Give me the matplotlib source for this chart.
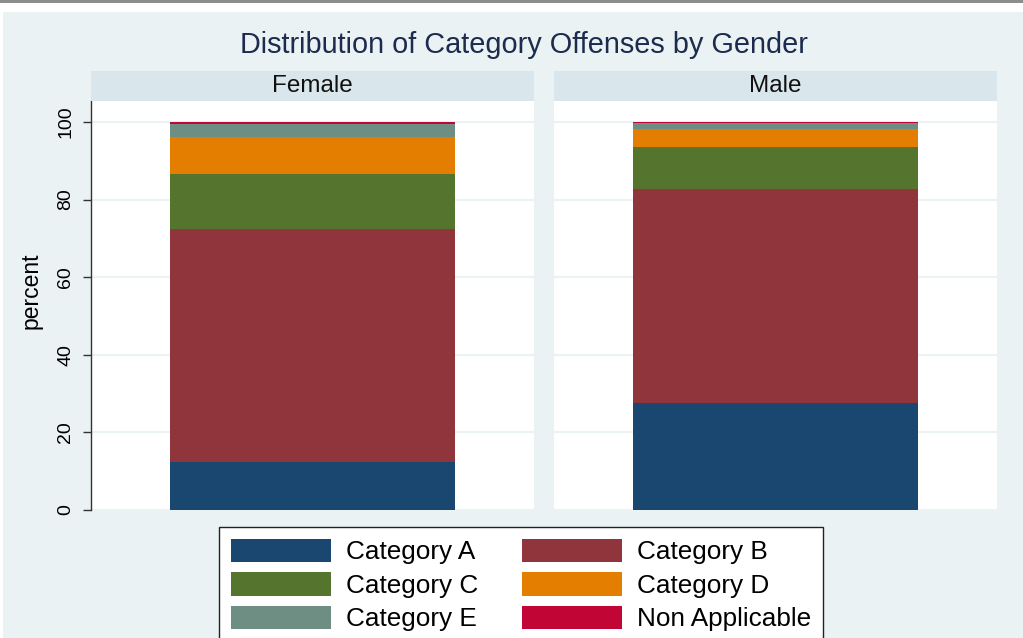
import numpy as np
import matplotlib
matplotlib.use("Agg")
import matplotlib.pyplot as plt
import matplotlib.patches as mpatches

plt.rcParams['font.family'] = ['Liberation Sans', 'DejaVu Sans']

# data (percent of offenses within gender)
genders = ['Female', 'Male']
categories = ['Category A', 'Category B', 'Category C',
              'Category D', 'Category E', 'Non Applicable']
female_pct = [12.4, 59.9, 14.3, 9.5, 3.4, 0.5]
male_pct = [27.6, 55.0, 11.0, 4.6, 1.5, 0.3]
yticks = [0, 20, 40, 60, 80, 100]

colors = ['#1a476f', '#90353b', '#55752f', '#e37e00', '#6e8e84', '#c10534']
bg = '#eaf2f3'
strip_col = '#d9e6eb'

W, H = 1023, 638
fig = plt.figure(figsize=(W / 100, H / 100), dpi=100)
fig.patch.set_facecolor('white')

# background + top band like the screenshot
fig.patches.append(mpatches.Rectangle((3 / W, 0), 1, 1 - 12 / H, transform=fig.transFigure,
                                      facecolor=bg, edgecolor='none', zorder=-10))
fig.patches.append(mpatches.Rectangle((0, 1 - 3 / H), 1, 3 / H, transform=fig.transFigure,
                                      facecolor='#8c8c8c', edgecolor='none', zorder=-9))


def px_rect(x0, x1, y0, y1):
    return [x0 / W, 1 - y1 / H, (x1 - x0) / W, (y1 - y0) / H]


panels = [(91, 534), (554, 997)]
data = [female_pct, male_pct]

for i, (gname, vals) in enumerate(zip(genders, data)):
    x0, x1 = panels[i]
    ax = fig.add_axes(px_rect(x0, x1, 101, 510))
    ax.set_facecolor('white')
    bottom = 0
    for v, c in zip(vals, colors):
        ax.bar([0], [v], bottom=bottom, width=0.643, color=c, edgecolor='none', zorder=3)
        bottom += v
    ax.set_xlim(-0.5, 0.5)
    ax.set_ylim(0, 105.4)
    ax.set_yticks(yticks)
    ax.grid(axis='y', color=bg, linewidth=1.5, zorder=0)
    ax.set_xticks([])
    for s in ['top', 'right', 'bottom']:
        ax.spines[s].set_visible(False)
    if i == 0:
        ax.spines['left'].set_color('#333333')
        ax.spines['left'].set_linewidth(1.0)
        ax.tick_params(axis='y', length=6, width=1, color='#333333', labelsize=14,
                       labelrotation=90, pad=6)
        for lab in ax.get_yticklabels():
            lab.set_va('center')
        ax.set_ylabel('percent', fontsize=16.5)
        ax.yaxis.set_label_coords(-0.11, 0.535)
    else:
        ax.spines['left'].set_visible(False)
        ax.tick_params(axis='y', length=0, labelleft=False)

    # strip header
    sax = fig.add_axes(px_rect(x0, x1, 71, 101))
    sax.set_facecolor(strip_col)
    sax.set_xticks([])
    sax.set_yticks([])
    for s in sax.spines.values():
        s.set_visible(False)
    sax.text(0.5, 0.5, gname, ha='center', va='center', fontsize=17.5, color='#111111',
             transform=sax.transAxes)

fig.text(524 / W, 1 - 45 / H, 'Distribution of Category Offenses by Gender',
         ha='center', va='center', fontsize=20.8, color='#1c2b4e')

handles = [mpatches.Patch(facecolor=c, edgecolor='none') for c in colors]
# order so that ncol=2 fills rows like the reference
order = [0, 2, 4, 1, 3, 5]
leg = fig.legend([handles[k] for k in order], [categories[k] for k in order],
                 ncol=2, loc='upper left', bbox_to_anchor=(219 / W, 1 - 527 / H),
                 fontsize=18.8, frameon=True, fancybox=False, framealpha=1,
                 edgecolor='#222222', handlelength=3.83, handleheight=1.0,
                 handletextpad=0.6, columnspacing=1.65, labelspacing=0.3,
                 borderpad=0.45, borderaxespad=0)
leg.get_frame().set_linewidth(1.0)

fig.savefig('out.png', dpi=100)
